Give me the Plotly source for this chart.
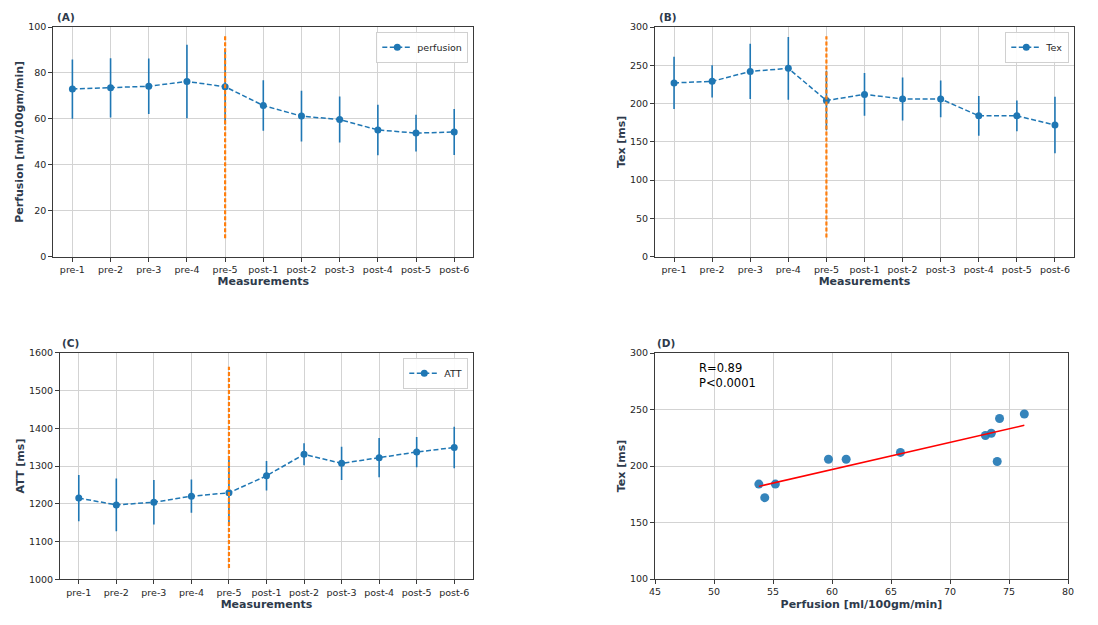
import numpy as np
import plotly.graph_objects as go

categories = ["pre-1", "pre-2", "pre-3", "pre-4", "pre-5",
              "post-1", "post-2", "post-3", "post-4", "post-5", "post-6"]

perfusion = [73.0, 73.5, 74.2, 76.3, 74.0, 65.8, 61.2, 59.7, 55.2, 53.8, 54.3]
perfusion_err = [12.9, 12.9, 12.1, 16.0, 16.5, 11.0, 11.0, 10.0, 11.0, 8.0, 10.0]

tex = [227, 229, 242, 246, 204, 212, 206, 206, 184, 184, 172]
tex_err = [34, 21, 36, 41, 39, 28, 28, 24, 26, 20, 37]

att = [1215, 1197, 1204, 1220, 1229, 1274, 1331, 1307, 1322, 1337, 1349]
att_err = [61, 70, 59, 44, 88, 39, 29, 44, 52, 40, 55]

# orange marker line at pre-5 (y extent per panel)
vline_cat = "pre-5"
vline_perf = [8, 96]
vline_tex = [25, 288]
vline_att = [1030, 1563]

corr_text = "R=0.89<br>P&lt;0.0001"

BLUE = "#1f77b4"
ORANGE = "#ff7f0e"
FONT = "DejaVu Sans"
TITLE_C = "#2e3a4b"
TICK_C = "#262626"
GRID_C = "#d3d3d3"
LINE_C = "#3a3a3a"

# page offset (browser body margin)
OFF = 8
W, H = 1098 - 2 * OFF, 625 - 2 * OFF


def dx(a, b):
    return [(a - OFF) / W, (b - OFF) / W]


def dy(top, bottom):
    return [1 - (bottom - OFF) / H, 1 - (top - OFF) / H]


def px_x(a):
    return (a - OFF) / W


def px_y(b):
    return 1 - (b - OFF) / H


fig = go.Figure()


def series(name, y, err, xa, ya, legend):
    fig.add_trace(go.Scatter(
        x=categories, y=y, name=name, mode="lines+markers",
        line=dict(color=BLUE, width=1.5, dash="5px,2.5px"),
        marker=dict(color=BLUE, size=7),
        error_y=dict(type="data", array=err, visible=True, color=BLUE,
                     thickness=1.6, width=0),
        xaxis=xa, yaxis=ya, legend=legend, showlegend=True))


def vline(yr, xa, ya):
    fig.add_trace(go.Scatter(
        x=[vline_cat, vline_cat], y=yr, mode="lines",
        line=dict(color=ORANGE, width=2.2, dash="4px,2px"),
        xaxis=xa, yaxis=ya, showlegend=False, hoverinfo="skip"))


series("perfusion", perfusion, perfusion_err, "x", "y", "legend")
vline(vline_perf, "x", "y")
series("Tex", tex, tex_err, "x2", "y2", "legend2")
vline(vline_tex, "x2", "y2")
series("ATT", att, att_err, "x3", "y3", "legend3")
vline(vline_att, "x3", "y3")

# scatter D
fig.add_trace(go.Scatter(
    x=perfusion, y=tex, mode="markers",
    marker=dict(color=BLUE, size=9, opacity=0.9),
    xaxis="x4", yaxis="y4", showlegend=False))
slope, icpt = np.polyfit(perfusion, tex, 1)
xs = [min(perfusion), max(perfusion)]
fig.add_trace(go.Scatter(
    x=xs, y=[slope * v + icpt for v in xs], mode="lines",
    line=dict(color="red", width=1.5),
    xaxis="x4", yaxis="y4", showlegend=False))

tickfont = dict(family=FONT, size=9.5, color=TICK_C)
titlefont = dict(family=FONT, size=11, color=TITLE_C, weight="bold")


def axis_common(**kw):
    d = dict(showline=True, mirror=True, linecolor=LINE_C, linewidth=1,
             ticks="outside", ticklen=4, tickcolor=LINE_C, tickwidth=1,
             showgrid=True, gridcolor=GRID_C, gridwidth=1.2, zeroline=False,
             tickfont=tickfont, automargin=False)
    d.update(kw)
    return d


cat_range = [-0.5, 10.5]

layout = dict(
    width=W, height=H, margin=dict(l=0, r=0, t=0, b=0),
    paper_bgcolor="white", plot_bgcolor="white",
    font=dict(family=FONT, color=TICK_C),
    xaxis=axis_common(domain=dx(53.3, 473.3), anchor="y", type="category",
                      range=cat_range,
                      title=dict(text="Measurements", font=titlefont, standoff=3)),
    yaxis=axis_common(domain=dy(27, 256.7), anchor="x", range=[0, 100],
                      dtick=20,
                      title=dict(text="Perfusion [ml/100gm/min]", font=titlefont, standoff=2)),
    xaxis2=axis_common(domain=dx(655, 1074), anchor="y2", type="category",
                       range=cat_range,
                       title=dict(text="Measurements", font=titlefont, standoff=3)),
    yaxis2=axis_common(domain=dy(27, 256.7), anchor="x2", range=[0, 300],
                       dtick=50,
                       title=dict(text="Tex [ms]", font=titlefont, standoff=2)),
    xaxis3=axis_common(domain=dx(60, 473), anchor="y3", type="category",
                       range=cat_range,
                       title=dict(text="Measurements", font=titlefont, standoff=3)),
    yaxis3=axis_common(domain=dy(352.7, 579.3), anchor="x3", range=[1000, 1600],
                       dtick=100,
                       title=dict(text="ATT [ms]", font=titlefont, standoff=2)),
    xaxis4=axis_common(domain=dx(655, 1068), anchor="y4", range=[45, 80],
                       dtick=5,
                       title=dict(text="Perfusion [ml/100gm/min]", font=titlefont, standoff=3)),
    yaxis4=axis_common(domain=dy(353, 579), anchor="x4", range=[100, 300],
                       dtick=50,
                       title=dict(text="Tex [ms]", font=titlefont, standoff=2)),
)

legend_common = dict(bgcolor="rgba(255,255,255,0.9)", bordercolor="#d0d0d0",
                     borderwidth=1, font=dict(family=FONT, size=9.5, color=TICK_C),
                     xanchor="right", yanchor="top", itemwidth=30,
                     tracegroupgap=0)
layout["legend"] = dict(legend_common, x=px_x(468.3), y=px_y(31.7))
layout["legend2"] = dict(legend_common, x=px_x(1069.3), y=px_y(31.7))
layout["legend3"] = dict(legend_common, x=px_x(468.3), y=px_y(357.7))

fig.update_layout(**layout)

labels = [("(A)", 55, 17), ("(B)", 657, 17), ("(C)", 60, 343), ("(D)", 655, 343)]
for txt, ax_, ay_ in labels:
    fig.add_annotation(text=txt, xref="paper", yref="paper",
                       x=px_x(ax_), y=px_y(ay_), xanchor="left", yanchor="middle",
                       showarrow=False,
                       font=dict(family=FONT, size=10.5, color=TITLE_C, weight="bold"))

fig.add_annotation(text=corr_text, xref="x4 domain", yref="y4 domain",
                   x=0.101, y=0.975, xanchor="left", yanchor="top", align="left",
                   showarrow=False,
                   font=dict(family=FONT, size=11.5, color="black"))

fig.write_html("out.html")
